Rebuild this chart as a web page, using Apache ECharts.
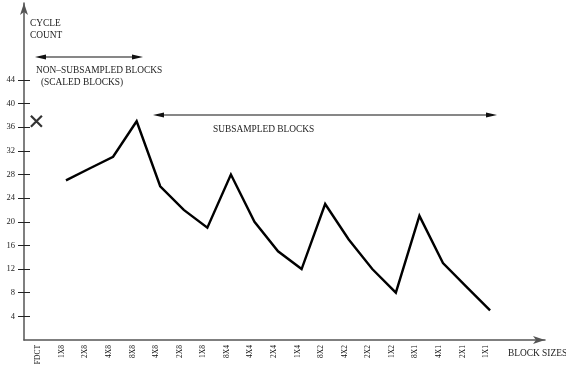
<!DOCTYPE html>
<html>
<head>
<meta charset="utf-8">
<style>
  html, body { margin: 0; padding: 0; background: #fff; }
  #chart { width: 566px; height: 374px; }
</style>
<script src="https://cdn.jsdelivr.net/npm/echarts@6/dist/echarts.min.js"></script>
</head>
<body>
<div id="chart"></div>
<script>
// Block sizes along the horizontal axis
const blockSizes = ['FDCT', '1X8', '2X8', '4X8', '8X8', '4X8', '2X8', '1X8', '8X4', '4X4',
                    '2X4', '1X4', '8X2', '4X2', '2X2', '1X2', '8X1', '4X1', '2X1', '1X1'];
// Cycle counts for the scaled / subsampled blocks (FDCT is drawn as a separate mark)
const cycleCounts = [null, 27, 29, 31, 37, 26, 22, 19, 28, 20, 15, 12, 23, 17, 12, 8, 21, 13, 9, 5];
// Cycle count of the full FDCT
const fdctCount = 37;
// Vertical tick labels
const cycleTicks = [4, 8, 12, 16, 20, 24, 28, 32, 36, 40, 44];

const SERIF = '"Liberation Serif", "DejaVu Serif", serif';
const chart = echarts.init(document.getElementById('chart'));

const idx = blockSizes.map((_, i) => i);
const lineData = cycleCounts.map((v, i) => [i, v]);

// Double-headed arrow built from a line and two filled heads
function doubleArrow(x1, x2, y) {
  const L = 11, W = 2.6;
  return [
    { type: 'line', shape: { x1: x1 + 4, y1: y, x2: x2 - 4, y2: y },
      style: { stroke: '#111', lineWidth: 1.2 } },
    { type: 'polygon', shape: { points: [[x1, y], [x1 + L, y - W], [x1 + L, y + W]] },
      style: { fill: '#111' } },
    { type: 'polygon', shape: { points: [[x2, y], [x2 - L, y - W], [x2 - L, y + W]] },
      style: { fill: '#111' } }
  ];
}

function label(text, x, y) {
  return { type: 'text', x: x, y: y,
    style: { text: text, fill: '#222', font: '9.4px ' + SERIF, verticalAlign: 'middle' } };
}

const yBase = {
  type: 'value', min: 0, max: 57, position: 'left', offset: 0,
  splitLine: { show: false }
};

chart.setOption({
  animation: false,
  backgroundColor: '#fff',
  grid: { left: 24, right: 21, top: 3, bottom: 34, containLabel: false },
  xAxis: {
    type: 'value', min: -0.781, max: 21.33,
    splitLine: { show: false },
    axisLine: { show: true, onZero: false, symbol: ['none', 'arrow'], symbolSize: [6, 12],
      lineStyle: { color: '#555', width: 1.5 } },
    axisTick: { show: false },
    axisLabel: {
      customValues: idx,
      formatter: v => blockSizes[Math.round(v)],
      rotate: 90, verticalAlign: 'bottom', margin: 5,
      fontSize: 7.5, fontFamily: SERIF, color: '#111'
    }
  },
  yAxis: [
    Object.assign({}, yBase, {
      axisLine: { show: true, onZero: false, symbol: ['none', 'arrow'], symbolSize: [6, 12],
        lineStyle: { color: '#555', width: 1.5 } },
      axisTick: { show: true, customValues: cycleTicks, length: 6, inside: false,
        lineStyle: { color: '#222', width: 1 } },
      axisLabel: { customValues: cycleTicks, margin: 9, fontSize: 8.5,
        fontFamily: SERIF, color: '#222' }
    }),
    Object.assign({}, yBase, {
      axisLine: { show: false, onZero: false },
      axisTick: { show: true, customValues: cycleTicks, length: 6, inside: true,
        lineStyle: { color: '#222', width: 1 } },
      axisLabel: { show: false }
    })
  ],
  series: [
    {
      type: 'line', data: lineData, showSymbol: false, connectNulls: false,
      lineStyle: { color: '#000', width: 2.4, join: 'miter' }
    },
    {
      type: 'scatter', data: [[0, fdctCount]],
      symbol: 'path://M0,0L10,10M10,0L0,10', symbolSize: 11, symbolOffset: [-6, 0],
      itemStyle: { color: 'none', borderColor: '#000', borderWidth: 2.2 }
    }
  ],
  graphic: [
    label('CYCLE', 30, 24),
    label('COUNT', 30, 35.5),
    ...doubleArrow(35, 143, 57),
    label('NON\u2013SUBSAMPLED BLOCKS', 36, 71),
    label('(SCALED BLOCKS)', 41, 83),
    ...doubleArrow(153, 497, 115),
    label('SUBSAMPLED BLOCKS', 213, 130),
    label('BLOCK SIZES', 508, 354)
  ]
});
</script>
</body>
</html>
